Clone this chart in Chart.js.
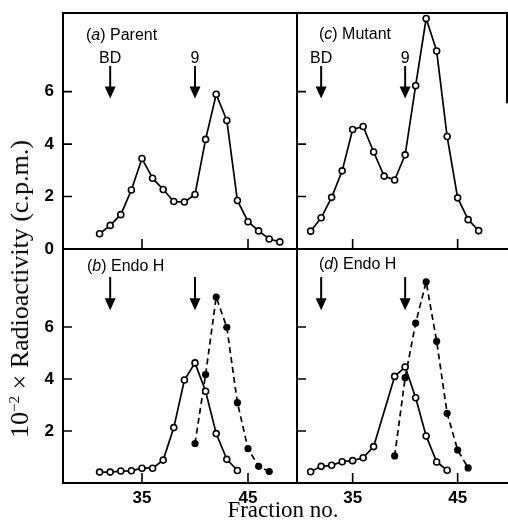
<!DOCTYPE html>
<html>
<head>
<meta charset="utf-8">
<script src="https://cdn.jsdelivr.net/npm/chart.js@4.4.1/dist/chart.umd.min.js"></script>
<style>
  body { margin: 0; background: #fff; }
  #wrap { position: relative; width: 508px; height: 523px; overflow: hidden; }
  #wrap canvas { position: absolute; left: 0; top: 0; }
  .ytitle {
    position: absolute; left: 20px; top: 289px;
    transform: translate(-50%, -50%) rotate(-90deg);
    font-family: "Liberation Serif", "DejaVu Serif", serif; font-size: 26px;
    white-space: nowrap; color: #000;
  }
  .ytitle sup { font-size: 15px; vertical-align: 9px; line-height: 0; }
  .xtitle {
    position: absolute; left: 283px; top: 510px;
    transform: translate(-50%, -50%);
    font-family: "Liberation Serif", "DejaVu Serif", serif; font-size: 23px;
    white-space: nowrap; color: #000;
  }
</style>
</head>
<body>
<div id="wrap">
  <canvas id="pa" width="508" height="523"></canvas>
  <canvas id="pc" width="508" height="523"></canvas>
  <canvas id="pb" width="508" height="523"></canvas>
  <canvas id="pd" width="508" height="523"></canvas>
  <div class="ytitle">10<sup>−2</sup> × Radioactivity (c.p.m.)</div>
  <div class="xtitle">Fraction no.</div>
</div>
<script>
// fraction numbers and radioactivity (10^-2 x c.p.m.)
const parentFractions = [31, 32, 33, 34, 35, 36, 37, 38, 39, 40, 41, 42, 43, 44, 45, 46, 47, 48];
const parentValues    = [0.58, 0.9, 1.31, 2.25, 3.45, 2.7, 2.27, 1.81, 1.79, 2.08, 4.18, 5.9, 4.9, 1.85, 1.04, 0.69, 0.38, 0.27];

const mutantFractions = [31, 32, 33, 34, 35, 36, 37, 38, 39, 40, 41, 42, 43, 44, 45, 46, 47];
const mutantValues    = [0.68, 1.19, 1.97, 2.98, 4.56, 4.67, 3.7, 2.78, 2.63, 3.59, 6.23, 8.79, 7.55, 4.29, 1.95, 1.12, 0.7];

// (b) Endo H on parent
const parentEndoOpenFractions = [31, 32, 33, 34, 35, 36, 37, 38, 39, 40, 41, 42, 43, 44];
const parentEndoOpenValues    = [0.42, 0.42, 0.46, 0.47, 0.57, 0.57, 0.88, 2.13, 3.96, 4.62, 3.53, 1.9, 0.91, 0.48];
const parentEndoFilledFractions = [40, 41, 42, 43, 44, 45, 46, 47];
const parentEndoFilledValues    = [1.52, 4.17, 7.15, 5.99, 3.09, 1.32, 0.64, 0.44];

// (d) Endo H on mutant
const mutantEndoOpenFractions = [31, 32, 33, 34, 35, 36, 37, 39, 40, 41, 42, 43, 44];
const mutantEndoOpenValues    = [0.43, 0.64, 0.68, 0.82, 0.86, 0.97, 1.4, 4.1, 4.46, 3.28, 1.81, 0.81, 0.49];
const mutantEndoFilledFractions = [39, 40, 41, 42, 43, 44, 45, 46];
const mutantEndoFilledValues    = [1.04, 4.05, 6.15, 7.74, 5.45, 2.68, 1.27, 0.58];

// marker arrows (Blue Dextran void, fraction 9)
const markerFractions = [32, 40];
const markerLabels = ['BD', '9'];

const yTickLabels = [0, 2, 4, 6];
const xTickLabels = [35, 45];

const W = 508, H = 523;
const sansBold = { family: '"Liberation Sans", Arial, sans-serif', size: 17, weight: 'bold' };

function pts(xs, ys) {
    return xs.map((x, i) => ({ x: x, y: ys[i] }));
}

function openSeries(xs, ys) {
    return {
        data: pts(xs, ys),
        borderColor: '#000', borderWidth: 1.7,
        pointRadius: 3, pointBorderWidth: 1.6,
        pointBackgroundColor: '#fff', pointBorderColor: '#000',
        tension: 0
    };
}

function filledSeries(xs, ys) {
    return {
        data: pts(xs, ys),
        borderColor: '#000', borderWidth: 1.7, borderDash: [6, 4],
        pointRadius: 3.6, pointBorderWidth: 0,
        pointBackgroundColor: '#000', pointBorderColor: '#000',
        tension: 0
    };
}

function drawLabel(ctx, x, y, parts) {
    let cx = x;
    parts.forEach(([txt, italic]) => {
        ctx.font = (italic ? 'italic ' : '') + '16px "Liberation Sans", Arial, sans-serif';
        ctx.fillText(txt, cx, y);
        cx += ctx.measureText(txt).width;
    });
}

// frame lines, inward ticks, marker arrows and panel label
const panelDecor = {
    id: 'panelDecor',
    afterDatasetsDraw(chart, args, o) {
        const { ctx, chartArea: a } = chart;
        const x = chart.scales.x, y = chart.scales.y;
        ctx.save();
        ctx.strokeStyle = '#000';
        ctx.fillStyle = '#000';
        ctx.lineWidth = 2;
        ctx.lineCap = 'square';
        ctx.beginPath();
        if (o.frame.top) { ctx.moveTo(a.left, a.top); ctx.lineTo(a.right, a.top); }
        if (o.frame.bottom) { ctx.moveTo(a.left, a.bottom); ctx.lineTo(a.right, a.bottom); }
        if (o.frame.left) { ctx.moveTo(a.left, a.top); ctx.lineTo(a.left, a.bottom); }
        if (o.frame.rightTo !== undefined) { ctx.moveTo(a.right, a.top); ctx.lineTo(a.right, y.getPixelForValue(o.frame.rightTo)); }
        ctx.stroke();

        ctx.lineWidth = 1.6;
        ctx.lineCap = 'butt';
        ctx.beginPath();
        [2, 4, 6].forEach(v => {
            const py = y.getPixelForValue(v);
            ctx.moveTo(a.left, py); ctx.lineTo(a.left + 9, py);
        });
        xTickLabels.forEach(v => {
            const px = x.getPixelForValue(v);
            ctx.moveTo(px, a.bottom); ctx.lineTo(px, a.bottom - 10);
        });
        ctx.stroke();

        // arrows
        markerFractions.forEach((f, i) => {
            const px = x.getPixelForValue(f);
            const top = y.getPixelForValue(o.arrow[0]);
            const tip = y.getPixelForValue(o.arrow[1]);
            ctx.lineWidth = 2;
            ctx.beginPath();
            ctx.moveTo(px, top); ctx.lineTo(px, tip - 8);
            ctx.stroke();
            ctx.beginPath();
            ctx.moveTo(px - 5.5, tip - 12);
            ctx.lineTo(px + 5.5, tip - 12);
            ctx.lineTo(px, tip);
            ctx.closePath();
            ctx.fill();
            if (o.markerText) {
                ctx.font = '16px "Liberation Sans", Arial, sans-serif';
                ctx.textAlign = 'center';
                ctx.textBaseline = 'alphabetic';
                ctx.fillText(markerLabels[i], px, top - 2.5);
            }
        });

        ctx.textAlign = 'left';
        ctx.textBaseline = 'middle';
        drawLabel(ctx, a.left + o.labelPos[0], a.top + o.labelPos[1], o.label);
        ctx.restore();
    }
};

function makePanel(id, p) {
    const showY = p.yLabels !== null;
    const yW = showY ? 30 : 0;
    const xH = p.xLabels ? 30 : 0;
    const ctx = document.getElementById(id).getContext('2d');
    return new Chart(ctx, {
        type: 'line',
        data: { datasets: p.datasets },
        options: {
            responsive: false,
            animation: false,
            layout: {
                autoPadding: false,
                padding: {
                    left: p.area.left - yW,
                    top: p.area.top,
                    right: W - p.area.right,
                    bottom: H - p.area.bottom - xH
                }
            },
            plugins: {
                legend: { display: false },
                tooltip: { enabled: false },
                panelDecor: p.decor
            },
            scales: {
                x: {
                    type: 'linear', min: p.xMin, max: p.xMax,
                    display: p.xLabels,
                    grid: { display: false, drawTicks: false },
                    border: { display: false },
                    ticks: { color: '#000', font: sansBold, padding: 5, maxRotation: 0 },
                    afterBuildTicks: s => { s.ticks = xTickLabels.map(v => ({ value: v })); },
                    afterFit: s => { s.height = xH; s.paddingLeft = 0; s.paddingRight = 0; }
                },
                y: {
                    min: 0, max: 9,
                    display: showY,
                    grid: { display: false, drawTicks: false },
                    border: { display: false },
                    ticks: { color: '#000', font: sansBold, padding: 9 },
                    afterBuildTicks: s => { s.ticks = (p.yLabels || []).map(v => ({ value: v })); },
                    afterFit: s => { s.width = yW; s.paddingTop = 0; s.paddingBottom = 0; }
                }
            }
        },
        plugins: [panelDecor]
    });
}

document.addEventListener('DOMContentLoaded', () => {
    const leftX = [27.55, 49.62];
    const rightX = [29.7, 49.7];

    makePanel('pa', {
        area: { left: 63, top: 13, right: 297, bottom: 249 },
        xMin: leftX[0], xMax: leftX[1], xLabels: false, yLabels: yTickLabels,
        datasets: [openSeries(parentFractions, parentValues)],
        decor: {
            frame: { top: true, bottom: true, left: true },
            arrow: [6.98, 5.74], markerText: true,
            labelPos: [23, 23], label: [['(', false], ['a', true], [') Parent', false]]
        }
    });

    makePanel('pc', {
        area: { left: 297, top: 13, right: 507, bottom: 249 },
        xMin: rightX[0], xMax: rightX[1], xLabels: false, yLabels: null,
        datasets: [openSeries(mutantFractions, mutantValues)],
        decor: {
            frame: { top: true, bottom: true, left: true, rightTo: 5.6 },
            arrow: [6.98, 5.74], markerText: true,
            labelPos: [22, 22], label: [['(', false], ['c', true], [') Mutant', false]]
        }
    });

    makePanel('pb', {
        area: { left: 63, top: 249, right: 297, bottom: 483 },
        xMin: leftX[0], xMax: leftX[1], xLabels: true, yLabels: yTickLabels.slice(1),
        datasets: [openSeries(parentEndoOpenFractions, parentEndoOpenValues),
                   filledSeries(parentEndoFilledFractions, parentEndoFilledValues)],
        decor: {
            frame: { bottom: true, left: true },
            arrow: [7.92, 6.64], markerText: false,
            labelPos: [24, 18], label: [['(', false], ['b', true], [') Endo H', false]]
        }
    });

    makePanel('pd', {
        area: { left: 297, top: 249, right: 507, bottom: 483 },
        xMin: rightX[0], xMax: rightX[1], xLabels: true, yLabels: null,
        datasets: [openSeries(mutantEndoOpenFractions, mutantEndoOpenValues),
                   filledSeries(mutantEndoFilledFractions, mutantEndoFilledValues)],
        decor: {
            frame: { bottom: true, left: true },
            arrow: [7.92, 6.64], markerText: false,
            labelPos: [22, 16], label: [['(', false], ['d', true], [') Endo H', false]]
        }
    });
});
</script>
</body>
</html>
